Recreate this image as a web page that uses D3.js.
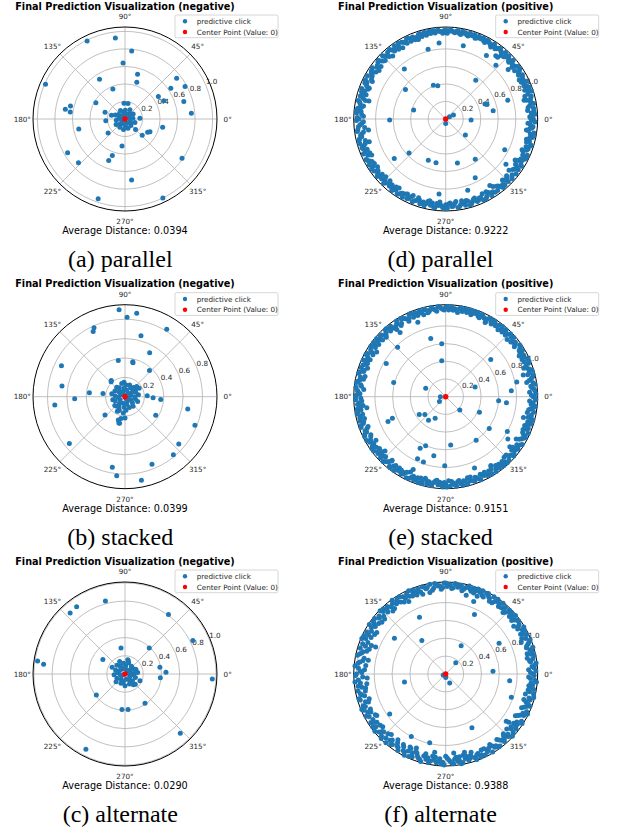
<!DOCTYPE html>
<html>
<head>
<meta charset="utf-8">
<script src="https://cdn.jsdelivr.net/npm/d3@7"></script>
<style>
  html, body { margin: 0; padding: 0; background: #fff; }
  svg { display: block; font-family: "DejaVu Sans", sans-serif; }
</style>
</head>
<body>
<svg id="fig" width="618" height="834"></svg>
<script>
// ---------- data ----------
const captions = ["(a) parallel", "(b) stacked", "(c) alternate", "(d) parallel", "(e) stacked", "(f) alternate"];
const sentiments = ["negative", "negative", "negative", "positive", "positive", "positive"];
const avgDistances = [0.0394, 0.0399, 0.0290, 0.9222, 0.9151, 0.9388];
const radialMax = [1.05, 0.95, 1.01, 1.05, 1.04, 1.03];
const ringTicks = [0.2, 0.4, 0.6, 0.8, 1.0];
const angleTicks = [0, 45, 90, 135, 180, 225, 270, 315];
const legendLabels = ["predictive click", "Center Point (Value: 0)"];
const centerPoint = [0, 0]; // [angle in degrees, radius]

// predictive clicks as [angle in degrees, radius]
const clicksA = [
  [115.9,0.99],[96.8,0.93],[84.4,0.78],[92,0.64],[156.4,0.99],[122.6,0.54],[74.3,0.53],[72.2,0.44],
  [112,0.37],[151,0.38],[170.8,0.69],[166.5,0.64],[172.7,0.63],[161.6,0.24],[192.2,0.54],[210.5,0.76],
  [223.3,0.73],[219.5,0.25],[263.7,0.31],[250.8,0.44],[248.6,0.51],[276.2,0.70],[251.4,0.96],[295.6,1.0],
  [325.5,0.79],[315,0.17],[316.7,0.27],[329.5,0.30],[333,0.32],[347.5,0.44],[2.5,0.17],[4.9,0.76],
  [16.5,0.70],[28.5,0.78],[38.2,0.75],[33.9,0.63],[34.1,0.46],[25.2,0.49],[93.7,0.18],[79,0.18],
  [165,0.16],[185,0.22],
  [5,0.09],[18,0.05],[32,0.11],[48,0.08],[62,0.12],[75,0.06],[88,0.1],[102,0.08],[118,0.11],[130,0.05],
  [145,0.09],[158,0.12],[172,0.07],[188,0.1],[200,0.04],[212,0.12],[225,0.08],[238,0.11],[250,0.06],
  [262,0.12],[275,0.09],[288,0.11],[300,0.05],[312,0.1],[325,0.08],[340,0.12],[352,0.06],[240,0.03],[60,0.03]
];
const clicksB = [
  [93.9,0.90],[82,0.87],[88.5,0.82],[114.2,0.78],[116,0.75],[58.3,0.82],[75.3,0.65],[154,0.73],
  [170.4,0.66],[186.8,0.73],[182.3,0.52],[173.6,0.37],[171.5,0.23],[100.5,0.38],[77.5,0.37],[76.8,0.36],
  [60.7,0.52],[46.9,0.37],[130,0.22],[133,0.21],[94,0.15],[47,0.13],[40.6,0.16],[35,0.13],[30.8,0.17],
  [2.5,0.23],[358,0.29],[355.7,0.37],[349,0.66],[337.8,0.78],[318.6,0.74],[309.8,0.78],[291.8,0.75],
  [281.1,0.88],[264,0.82],[259.8,0.74],[220,0.75],[222.5,0.28],[242.4,0.17],[257,0.28],[259.5,0.23],
  [264,0.17],[230,0.13],[329,0.37],[245,0.16],[254,0.25],[258.5,0.28],[270,0.22],
  [0,0.1],[8,0.14],[15,0.06],[24,0.12],[33,0.09],[40,0.15],[50,0.05],[58,0.11],[68,0.13],[76,0.07],
  [85,0.12],[95,0.09],[104,0.14],[112,0.06],[122,0.11],[131,0.13],[140,0.08],[150,0.12],[158,0.05],
  [167,0.14],[176,0.1],[185,0.07],[194,0.13],[203,0.11],[212,0.06],[221,0.14],[230,0.09],[238,0.12],
  [247,0.15],[256,0.07],[265,0.11],[274,0.14],[283,0.08],[292,0.12],[301,0.05],[310,0.13],[320,0.1],
  [330,0.07],[339,0.14],[348,0.11],[355,0.04],[120,0.03],[300,0.02]
];
const clicksC = [
  [105,0.83],[125.7,0.91],[132,0.90],[53.9,0.81],[26.2,0.83],[98.7,0.29],[46.9,0.39],[146.9,0.29],
  [171.5,0.97],[173.2,0.90],[152,0.16],[113,0.15],[76,0.15],[10.9,0.39],[2.3,0.45],[354,0.39],
  [356.7,0.96],[336,0.18],[308,0.15],[304.3,0.39],[274.9,0.39],[265.1,0.39],[216.2,0.39],[313,0.89],
  [242.5,0.93],[7,0.14],[30,0.11],[79,0.16],[22,0.13],[315,0.16],
  [3,0.1],[14,0.06],[26,0.12],[38,0.08],[50,0.11],[63,0.05],[72,0.13],[85,0.09],[97,0.12],[108,0.06],
  [120,0.1],[133,0.13],[146,0.07],[158,0.11],[171,0.08],[184,0.12],[196,0.05],[208,0.1],[221,0.13],
  [234,0.07],[246,0.11],[258,0.09],[270,0.13],[282,0.06],[294,0.12],[306,0.08],[318,0.11],[330,0.06],
  [342,0.12],[354,0.08],[200,0.03],[30,0.03]
];
const clicksD = [
  [95,0.87],[76.5,0.86],[104.2,0.82],[57.3,0.86],[51.6,0.92],[49.9,0.92],[47,0.84],[38.4,0.91],
  [129.6,0.74],[52.2,0.56],[110.1,0.41],[103.4,0.39],[143.7,0.57],[158.1,0.94],[166.8,0.90],[20.9,0.48],
  [19.3,0.50],[16.8,0.74],[9.9,0.55],[13.5,0.92],[164.4,0.38],[181,0.64],[357.7,0.29],[27.6,0.10],
  [30,0.05],[270,0.05],[320.8,0.29],[222.8,0.57],[217.5,0.74],[247.1,0.51],[257.5,0.51],[284.9,0.52],
  [306.3,0.57],[332.4,0.76],[323.1,0.86],[329.5,0.92],[296.7,0.75],[303.6,0.91],[287.2,0.85],[264.9,0.86],
  [188.1,0.89],[196.5,0.91],[352.2,0.93],[108.9,0.965],
  [0,1.0],[1.5,0.96],[3,1.02],[4,0.98],[6,0.94],[7,1.01],[9,0.97],[10,1.02],[12,0.99],[13,0.95],[15,1.01],
  [17,0.98],[18,1.03],[20,0.96],[22,1.0],[23,0.97],[25,1.02],[27,0.99],[28,0.95],[30,1.01],[32,0.98],
  [34,1.02],[35,0.96],[37,1.0],[39,0.98],[41,1.02],[42,0.97],[44,1.0],[46,0.99],[48,1.02],[49,0.96],
  [51,1.0],[53,1.01],[55,0.98],[57,1.02],[59,0.99],[61,1.01],[63,0.98],[65,1.02],[67,1.0],[69,0.99],
  [71,1.02],[73,1.0],[75,0.98],[77,1.01],[79,1.02],[81,0.99],[83,1.01],[85,1.0],[87,1.02],[89,0.98],
  [91,1.01],[93,1.0],[95,1.02],[97,0.99],[99,1.01],[101,1.02],[103,0.98],[105,1.0],[107,1.02],[109,0.96],
  [110,0.99],[112,1.01],[114,0.97],[116,1.02],[118,0.99],[120,1.01],[121,0.95],[123,0.98],[125,1.02],
  [127,0.97],[128,1.0],[130,0.94],[131,1.01],[133,0.98],[135,1.02],[136,0.96],[138,0.99],[140,1.01],
  [141,0.95],[143,0.98],[145,1.02],[146,0.96],[148,1.0],[150,0.97],[151,1.02],[153,0.94],[155,0.99],
  [156,1.01],[158,0.96],[160,1.02],[161,0.98],[163,0.95],[165,1.01],[166,0.97],[168,1.02],[170,0.99],
  [171,0.95],[173,1.01],[175,0.97],[176,1.02],[178,0.94],[180,0.99],[181,1.02],[183,0.96],[185,1.0],
  [186,0.93],[188,1.02],[190,0.97],[191,0.99],[193,1.01],[195,0.95],[196,1.02],[198,0.98],[200,1.0],
  [201,0.96],[203,1.02],[205,0.98],[206,0.94],[208,1.01],[210,0.97],[211,1.02],[213,0.99],[215,0.95],
  [216,1.01],[218,0.98],[220,1.02],[221,0.96],[223,1.0],[225,0.98],[226,1.02],[228,0.95],[230,1.0],
  [231,0.97],[233,1.02],[235,0.99],[236,0.95],[238,1.01],[240,0.98],[241,1.02],[243,0.96],[245,1.0],
  [246,0.97],[248,1.02],[250,0.99],[251,0.95],[253,1.01],[255,0.98],[256,1.02],[258,0.96],[260,1.0],
  [261,0.97],[263,1.02],[265,0.99],[266,0.95],[268,1.01],[270,0.98],[271,1.02],[273,0.96],[275,1.0],
  [276,0.97],[278,1.02],[280,0.99],[281,0.95],[283,1.01],[285,0.97],[286,1.02],[288,0.99],[290,0.96],
  [291,1.01],[293,0.98],[295,1.02],[296,0.95],[298,1.0],[300,0.97],[301,1.02],[303,0.99],[305,0.94],
  [306,1.01],[308,0.97],[310,1.02],[311,0.99],[313,0.95],[315,1.01],[316,0.97],[318,1.02],[320,0.99],
  [321,0.93],[323,0.96],[325,1.01],[326,0.98],[328,1.02],[330,0.95],[331,0.99],[333,1.01],[335,0.97],
  [336,1.02],[338,0.94],[340,1.0],[341,0.97],[343,1.02],[345,0.99],[346,0.95],[348,1.01],[350,0.98],
  [351,1.02],[353,0.96],[355,1.0],[356,0.97],[358,1.02],
  [0.5,0.97],[2.5,0.99],[5,1.01],[8,0.95],[11,0.99],[14,1.0],[16,0.94],[19,0.99],[21,1.02],[24,0.98],
  [26,0.96],[29,1.0],[31,0.97],[33,1.0],[36,1.02],[38,0.96],[40,0.99],[43,0.98],[45,1.02],[47,0.97],
  [50,0.99],[52,1.02],[54,0.99],[56,1.0],[58,0.97],[60,1.0],[62,1.02],[64,0.99],[66,1.0],[68,1.02],
  [70,0.98],[72,1.0],[74,1.02],[76,0.99],[78,1.0],[80,0.98],[82,1.02],[84,0.99],[86,1.01],[88,1.0],
  [90,1.02],[92,0.98],[94,1.0],[96,1.01],[98,1.02],[100,0.99],[102,1.0],[104,1.02],[106,0.98],[108,1.01],
  [111,0.97],[113,1.0],[115,1.02],[117,0.97],[119,1.0],[122,1.02],[124,0.96],[126,0.99],[129,1.02],
  [132,0.96],[134,1.0],[137,0.97],[139,1.02],[142,0.99],[144,0.94],[147,1.01],[149,0.98],[152,0.96],
  [154,1.02],[157,0.98],[159,0.95],[162,1.01],[164,0.99],[167,0.94],[169,1.0],[172,0.97],[174,1.02],
  [177,0.96],[179,1.01],[182,0.94],[184,0.98],[187,1.01],[189,0.95],[192,0.98],[194,1.02],[197,0.96],
  [199,1.01],[202,0.99],[204,0.95],[207,1.02],[209,0.99],[212,0.96],[214,1.02],[217,0.97],[219,1.0],
  [222,0.99],[224,0.95],[227,1.0],[229,0.97],[232,1.0],[234,0.96],[237,1.02],[239,0.99],[242,0.97],
  [244,1.01],[247,0.95],[249,1.0],[252,0.97],[254,1.0],[257,0.99],[259,0.95],[262,1.01],[264,0.97],
  [267,0.99],[269,1.02],[272,0.97],[274,1.0],[277,0.95],[279,1.01],[282,0.98],[284,0.96],[287,1.01],
  [289,0.97],[292,1.0],[294,0.98],[297,1.02],[299,0.95],[302,0.99],[304,1.01],[307,0.96],[309,0.99],
  [312,1.01],[314,0.97],[317,0.95],[319,1.0],[322,1.02],[324,0.97],[327,0.95],[329,1.0],[332,0.97],
  [334,1.02],[337,0.96],[339,0.99],[342,1.01],[344,0.96],[347,0.98],[349,1.02],[352,0.95],[354,0.99],
  [357,0.94],[359,0.98]
];
const clicksE = [
  [110.5,0.90],[104.4,0.68],[94.3,0.60],[96.3,0.41],[125.4,0.89],[134.2,0.78],[150.8,0.77],[164.7,0.61],
  [157.4,0.245],[180,0.06],[218,0.09],[39.5,0.66],[62,0.95],[18.2,0.35],[355.7,0.60],[354.4,0.69],
  [5.2,0.745],[11.6,0.82],[15.6,0.91],[316.4,0.22],[335.3,0.42],[323.8,0.61],[305,0.60],[275.9,0.55],
  [269.2,0.78],[258.6,0.68],[247.8,0.60],[243.6,0.65],[245.6,0.77],[251.2,0.78],[233.9,0.33],[243.8,0.27],
  [213.9,0.36],[220.5,0.31],[203.3,0.71],[202,0.65],[221.8,0.92],[229.9,0.94],[245.9,0.90],[292,0.87],
  [303.3,0.93],[325.8,0.85],[322,0.92],[330.6,0.80],[345,0.91],[187.9,0.90],
  [0,0.99],[2,1.02],[3,0.95],[5,1.0],[7,0.97],[8,1.02],[10,0.93],[12,0.99],[13,1.01],[15,0.96],[17,1.02],
  [19,0.98],[20,0.94],[22,1.01],[24,0.97],[25,1.02],[27,0.99],[29,0.95],[31,1.01],[32,0.98],[34,1.02],
  [36,0.96],[38,1.0],[39,0.98],[41,1.02],[43,0.95],[45,1.0],[46,0.97],[48,1.02],[50,0.99],[52,0.96],
  [53,1.01],[55,0.98],[57,1.02],[59,0.99],[61,1.01],[62,0.96],[64,0.99],[66,1.02],[68,0.98],[70,1.0],
  [71,1.02],[73,0.97],[75,1.0],[77,1.02],[79,0.98],[81,1.01],[82,0.96],[84,1.0],[86,1.02],[88,0.98],
  [90,1.01],[92,0.99],[94,1.02],[96,0.97],[98,1.0],[99,1.02],[101,0.98],[103,1.01],[105,0.96],[107,1.02],
  [108,0.99],[110,1.01],[112,0.97],[114,1.02],[116,0.95],[117,0.99],[119,1.01],[121,0.97],[123,1.02],
  [125,0.98],[126,0.94],[128,1.01],[130,0.97],[132,1.02],[133,0.99],[135,0.95],[137,1.01],[139,0.98],
  [140,1.02],[142,0.96],[144,0.99],[146,1.02],[147,0.93],[149,0.97],[151,1.01],[153,0.99],[154,0.95],
  [156,1.02],[158,0.98],[160,0.94],[161,1.01],[163,0.97],[165,1.02],[167,0.99],[168,0.95],[170,1.01],
  [172,0.97],[174,1.02],[175,0.93],[177,0.99],[179,1.01],[181,0.96],[182,1.02],[184,0.98],[186,0.94],
  [188,1.01],[189,0.97],[191,1.02],[193,0.99],[195,0.95],[196,1.01],[198,0.98],[200,1.02],[202,0.96],
  [203,0.99],[205,1.01],[207,0.95],[209,1.02],[210,0.98],[212,0.93],[214,1.0],[216,0.97],[217,1.02],
  [219,0.99],[221,0.95],[223,1.01],[224,0.97],[226,1.02],[228,0.99],[230,0.95],[231,1.01],[233,0.98],
  [235,1.02],[237,0.96],[238,0.99],[240,1.01],[242,0.97],[244,1.02],[245,0.94],[247,0.99],[249,1.01],
  [251,0.97],[252,1.02],[254,0.99],[256,0.95],[258,1.01],[259,0.98],[261,1.02],[263,0.96],[265,1.0],
  [266,0.97],[268,1.02],[270,0.99],[272,0.95],[273,1.01],[275,0.98],[277,1.02],[279,0.96],[280,1.0],
  [282,0.97],[284,1.02],[286,0.99],[287,0.95],[289,1.01],[291,0.98],[293,1.02],[294,0.96],[296,0.99],
  [298,1.01],[300,0.97],[301,1.02],[303,0.94],[305,0.99],[307,1.01],[308,0.97],[310,1.02],[312,0.99],
  [314,0.95],[315,1.01],[317,0.98],[319,1.02],[321,0.96],[322,0.99],[324,1.01],[326,0.97],[328,1.02],
  [329,0.93],[331,0.98],[333,1.01],[335,0.96],[336,1.02],[338,0.99],[340,0.95],[342,1.01],[343,0.97],
  [345,1.02],[347,0.99],[349,0.94],[350,1.01],[352,0.97],[354,1.02],[356,0.99],[357,0.95],[359,1.01],
  [1,0.97],[4,1.01],[6,0.98],[9,1.0],[11,0.96],[14,1.02],[16,0.98],[18,1.0],[21,0.97],[23,1.02],
  [26,0.96],[28,1.0],[30,0.97],[33,1.0],[35,1.02],[37,0.98],[40,0.96],[42,1.0],[44,1.02],[47,0.99],
  [49,0.97],[51,1.02],[54,0.99],[56,1.0],[58,0.97],[60,1.02],[63,0.99],[65,1.0],[67,0.97],[69,1.02],
  [72,0.99],[74,1.02],[76,0.98],[78,1.0],[80,1.02],[83,0.99],[85,0.98],[87,1.0],[89,1.02],[91,0.98],
  [93,1.0],[95,1.02],[97,0.99],[100,1.0],[102,0.97],[104,1.02],[106,0.99],[109,0.97],[111,1.0],[113,1.02],
  [115,0.98],[118,1.0],[120,1.02],[122,0.95],[124,0.99],[127,0.97],[129,1.0],[131,1.02],[134,0.97],
  [136,1.0],[138,0.96],[141,0.99],[143,1.02],[145,0.97],[148,1.0],[150,0.95],[152,1.02],[155,0.98],
  [157,0.96],[159,1.0],[162,0.97],[164,1.01],[166,0.94],[169,0.99],[171,1.02],[173,0.96],[176,1.0],
  [178,0.97],[180,1.02],[183,0.95],[185,1.0],[187,0.97],[190,1.01],[192,0.96],[194,1.0],[197,0.97],
  [199,1.01],[201,0.94],[204,0.98],[206,1.02],[208,0.96],[211,1.0],[213,0.97],[215,1.02],[218,0.95],
  [220,1.0],[222,0.98],[225,0.96],[227,1.0],[229,0.97],[232,1.02],[234,0.96],[236,1.0],[239,0.97],
  [241,1.0],[243,0.96],[246,1.01],[248,0.97],[250,1.0],[253,0.96],[255,1.02],[257,0.97],[260,1.0],
  [262,0.98],[264,0.95],[267,1.0],[269,0.97],[271,1.02],[274,0.96],[276,1.0],[278,0.97],[281,1.02],
  [283,0.98],[285,0.95],[288,1.0],[290,0.97],[292,1.0],[295,0.98],[297,0.96],[299,1.0],[302,0.97],
  [304,1.02],[306,0.96],[309,1.0],[311,0.97],[313,1.02],[316,0.95],[318,0.99],[320,1.01],[323,0.95],
  [325,0.99],[327,1.0],[330,0.96],[332,1.0],[334,0.98],[337,0.95],[339,1.0],[341,0.97],[344,1.0],
  [346,0.96],[348,0.99],[351,0.95],[353,1.0],[355,0.97],[358,1.02]
];
const clicksF = [
  [75.4,0.91],[64.2,0.74],[114.8,0.70],[145.1,0.70],[159,0.84],[125.5,0.46],[61.3,0.36],[48.5,0.17],
  [30,0.69],[3.2,0.53],[191,0.47],[294,0.11],[215.5,0.77],[241.2,0.80],[256.9,0.79],[354,0.72],
  [340.4,0.78],[322,0.86],[262,0.885],[279.3,0.94],[296,0.67],[68.9,0.87],[275.8,0.89],[283.5,0.90],
  [248.4,0.89],[244,0.91],[322.6,0.89],[270,0.04],[200,0.03],
  [0,0.98],[2,1.01],[3,0.93],[5,0.97],[7,1.02],[9,0.95],[10,0.99],[12,1.01],[14,0.94],[16,0.98],[17,1.02],
  [19,0.96],[21,1.0],[23,0.92],[24,0.98],[26,1.01],[28,0.95],[30,0.99],[31,1.02],[33,0.97],[35,0.93],
  [37,1.0],[38,0.98],[40,1.02],[42,0.96],[44,0.99],[45,1.01],[47,0.94],[49,0.98],[51,1.02],[52,0.96],
  [54,1.0],[56,0.98],[58,1.02],[59,0.95],[61,0.99],[63,1.01],[65,0.97],[66,1.02],[68,0.94],[70,0.99],
  [72,1.01],[73,0.97],[75,1.02],[77,0.99],[79,0.95],[80,1.01],[82,0.98],[84,1.02],[86,0.96],[87,1.0],
  [89,0.98],[91,1.02],[93,0.95],[94,0.99],[96,1.01],[98,0.97],[100,1.02],[101,0.93],[103,0.98],[105,1.01],
  [107,0.96],[108,1.0],[110,0.94],[112,0.98],[114,1.02],[115,0.96],[117,0.91],[119,0.99],[121,1.01],
  [122,0.95],[124,0.98],[126,1.02],[128,0.93],[129,0.97],[131,1.0],[133,0.95],[135,0.99],[136,1.02],
  [138,0.92],[140,0.97],[142,1.01],[143,0.94],[145,0.98],[147,1.02],[149,0.9],[150,0.96],[152,1.0],
  [154,0.93],[156,0.98],[157,1.02],[159,0.89],[161,0.95],[163,1.0],[164,0.92],[166,0.97],[168,1.01],
  [170,0.88],[171,0.94],[173,0.99],[175,1.02],[177,0.91],[178,0.96],[180,1.0],[182,0.93],[184,0.98],
  [185,1.02],[187,0.89],[189,0.95],[191,1.0],[192,0.92],[194,0.97],[196,1.01],[198,0.9],[199,0.95],
  [201,0.99],[203,1.02],[205,0.93],[206,0.97],[208,1.01],[210,0.91],[212,0.96],[213,1.0],[215,0.94],
  [217,0.98],[219,1.02],[220,0.92],[222,0.96],[224,1.0],[226,0.93],[227,0.98],[229,1.02],[231,0.95],
  [233,0.99],[234,0.91],[236,0.97],[238,1.01],[240,0.94],[241,0.98],[243,1.02],[245,0.92],[247,0.96],
  [248,1.0],[250,0.94],[252,0.99],[254,1.02],[255,0.95],[257,0.98],[259,1.01],[261,0.93],[262,0.97],
  [264,1.0],[266,0.95],[268,0.99],[269,1.02],[271,0.94],[273,0.98],[275,1.01],[276,0.96],[278,0.99],
  [280,1.02],[282,0.93],[283,0.97],[285,1.0],[287,0.95],[289,0.99],[290,1.02],[292,0.96],[294,0.99],
  [296,1.01],[297,0.94],[299,0.98],[301,1.02],[303,0.96],[304,0.99],[306,1.01],[308,0.93],[310,0.97],
  [311,1.0],[313,0.95],[315,0.99],[317,1.02],[318,0.92],[320,0.96],[322,1.0],[324,0.94],[325,0.98],
  [327,1.02],[329,0.91],[331,0.95],[332,0.99],[334,1.02],[336,0.93],[338,0.97],[339,1.01],[341,0.95],
  [343,0.99],[345,1.02],[346,0.92],[348,0.96],[350,1.0],[352,0.94],[353,0.98],[355,1.02],[357,0.95],
  [359,0.99],
  [1,0.95],[4,0.99],[6,1.01],[8,0.96],[11,0.93],[13,0.98],[15,1.0],[18,0.95],[20,0.98],[22,1.02],
  [25,0.94],[27,0.98],[29,1.01],[32,0.95],[34,0.99],[36,1.01],[39,0.95],[41,0.98],[43,1.01],[46,0.96],
  [48,1.0],[50,0.97],[53,0.99],[55,1.02],[57,0.95],[60,0.98],[62,1.02],[64,0.96],[67,0.99],[69,1.02],
  [71,0.96],[74,0.99],[76,1.0],[78,0.97],[81,0.99],[83,1.01],[85,0.97],[88,1.0],[90,1.02],[92,0.97],
  [95,0.99],[97,1.02],[99,0.95],[102,0.99],[104,1.0],[106,0.93],[109,0.98],[111,1.01],[113,0.95],
  [116,1.0],[118,0.96],[120,0.93],[123,1.0],[125,0.96],[127,0.99],[130,0.92],[132,0.98],[134,1.01],
  [137,0.95],[139,0.99],[141,0.92],[144,1.0],[146,0.95],[148,0.98],[151,0.91],[153,0.97],[155,1.01],
  [158,0.94],[160,0.99],[162,0.9],[165,0.96],[167,0.99],[169,0.93],[172,0.97],[174,0.9],[176,0.98],
  [179,0.94],[181,1.01],[183,0.88],[186,0.96],[188,0.99],[190,0.91],[193,0.98],[195,0.94],[197,1.0],
  [200,0.92],[202,0.97],[204,1.0],[207,0.94],[209,0.98],[211,0.9],[214,0.97],[216,1.01],[218,0.93],
  [221,0.99],[223,0.95],[225,1.02],[228,0.91],[230,0.97],[232,1.0],[235,0.94],[237,0.98],[239,0.92],
  [242,0.99],[244,0.96],[246,1.01],[249,0.93],[251,0.97],[253,1.0],[256,0.92],[258,0.96],[260,0.99],
  [263,0.94],[265,0.98],[267,1.01],[270,0.92],[272,0.96],[274,1.0],[277,0.94],[279,0.98],[281,1.01],
  [284,0.95],[286,0.98],[288,0.92],[291,0.97],[293,1.01],[295,0.94],[298,0.99],[300,0.96],[302,0.93],
  [305,0.98],[307,1.01],[309,0.95],[312,0.98],[314,0.93],[316,0.97],[319,1.0],[321,0.94],[323,0.98],
  [326,0.96],[328,1.0],[330,0.93],[333,0.97],[335,1.0],[337,0.95],[340,0.98],[342,0.92],[344,0.97],
  [347,1.01],[349,0.94],[351,0.98],[354,0.96],[356,1.0],[358,0.93]
];
const panelClicks = [clicksA, clicksB, clicksC, clicksD, clicksE, clicksF];

// ---------- layout ----------
const colX = [125, 445.7];
const captionX = [120.3, 440.5];
const rowY = [119, 396.7, 674];
const R = 92;
const BLUE = "#1f77b4", RED = "#ff0000", GRID = "#b0b0b0", TEXT = "#262626";

const svg = d3.select("#fig");
const fmt = d3.format(".4f");

function drawPanel(i) {
  const col = Math.floor(i / 3), row = i % 3;
  const cx = colX[col], cy = rowY[row];
  const rmax = radialMax[i];
  const g = svg.append("g").attr("transform", `translate(${cx},${cy})`);

  const r = d3.scaleLinear().domain([0, rmax]).range([0, R]);
  const theta = d3.scaleLinear().domain([0, 360]).range([0, 2 * Math.PI]);
  const X = (t, v) => r(v) * Math.cos(theta(t));
  const Y = (t, v) => -r(v) * Math.sin(theta(t));

  // radial grid rings
  g.append("g").selectAll("circle")
    .data(ringTicks.filter(t => t < rmax))
    .join("circle")
    .attr("r", d => r(d))
    .attr("fill", "none")
    .attr("stroke", GRID)
    .attr("stroke-width", 0.8);

  // angular grid spokes
  g.append("g").selectAll("line")
    .data(angleTicks)
    .join("line")
    .attr("x1", 0).attr("y1", 0)
    .attr("x2", d => X(d, rmax))
    .attr("y2", d => Y(d, rmax))
    .attr("stroke", GRID)
    .attr("stroke-width", 0.8);

  // polar spine
  g.append("circle")
    .attr("r", r(rmax))
    .attr("fill", "none")
    .attr("stroke", "#000")
    .attr("stroke-width", 1);

  // angle tick labels
  const labelR = R + 10.7;
  g.append("g").selectAll("text")
    .data(angleTicks)
    .join("text")
    .attr("x", d => labelR * Math.cos(theta(d)))
    .attr("y", d => -labelR * Math.sin(theta(d)))
    .attr("text-anchor", "middle")
    .attr("dy", "0.35em")
    .attr("font-size", 7.2)
    .attr("fill", TEXT)
    .text(d => `${d}°`);

  // radial tick labels along 22.5°
  g.append("g").selectAll("text")
    .data(ringTicks.filter(t => t < rmax))
    .join("text")
    .attr("x", d => X(22.5, d))
    .attr("y", d => Y(22.5, d) - 1.5)
    .attr("font-size", 7.2)
    .attr("fill", TEXT)
    .text(d => d.toFixed(1));

  // predictive clicks
  g.append("g").selectAll("circle")
    .data(panelClicks[i])
    .join("circle")
    .attr("cx", d => X(d[0], d[1]))
    .attr("cy", d => Y(d[0], d[1]))
    .attr("r", 2.5)
    .attr("fill", BLUE);

  // center point
  g.append("circle")
    .attr("cx", X(centerPoint[0], centerPoint[1]))
    .attr("cy", Y(centerPoint[0], centerPoint[1]))
    .attr("r", 2.7)
    .attr("fill", RED);

  // title
  g.append("text")
    .attr("x", 0).attr("y", -109.5)
    .attr("text-anchor", "middle")
    .attr("font-size", 9.7)
    .attr("font-weight", "bold")
    .attr("fill", "#000")
    .text(`Final Prediction Visualization (${sentiments[i]})`);

  // average distance
  g.append("text")
    .attr("x", 0).attr("y", 115.3)
    .attr("text-anchor", "middle")
    .attr("font-size", 9.7)
    .attr("fill", "#000")
    .text(`Average Distance: ${fmt(avgDistances[i])}`);

  // legend
  const lg = g.append("g").attr("transform", "translate(50,-104)");
  lg.append("rect")
    .attr("width", 103).attr("height", 22.7)
    .attr("rx", 1.5)
    .attr("fill", "#fff").attr("fill-opacity", 0.8)
    .attr("stroke", "#cccccc").attr("stroke-width", 0.8);
  const entries = lg.selectAll("g.entry")
    .data(legendLabels)
    .join("g")
    .attr("transform", (d, k) => `translate(0,${6.3 + k * 10.7})`);
  entries.append("circle")
    .attr("cx", 10).attr("cy", 0).attr("r", 2.2)
    .attr("fill", (d, k) => k === 0 ? BLUE : RED);
  entries.append("text")
    .attr("x", 21.7).attr("dy", "0.35em")
    .attr("font-size", 7.2)
    .attr("fill", TEXT)
    .text(d => d);

  // subfigure caption
  svg.append("text")
    .attr("x", captionX[col])
    .attr("y", cy + 148.3)
    .attr("text-anchor", "middle")
    .attr("font-family", "'Liberation Serif', serif")
    .attr("font-size", 24)
    .attr("fill", "#000")
    .text(captions[i]);
}

captions.forEach((c, i) => drawPanel(i));
</script>
</body>
</html>
